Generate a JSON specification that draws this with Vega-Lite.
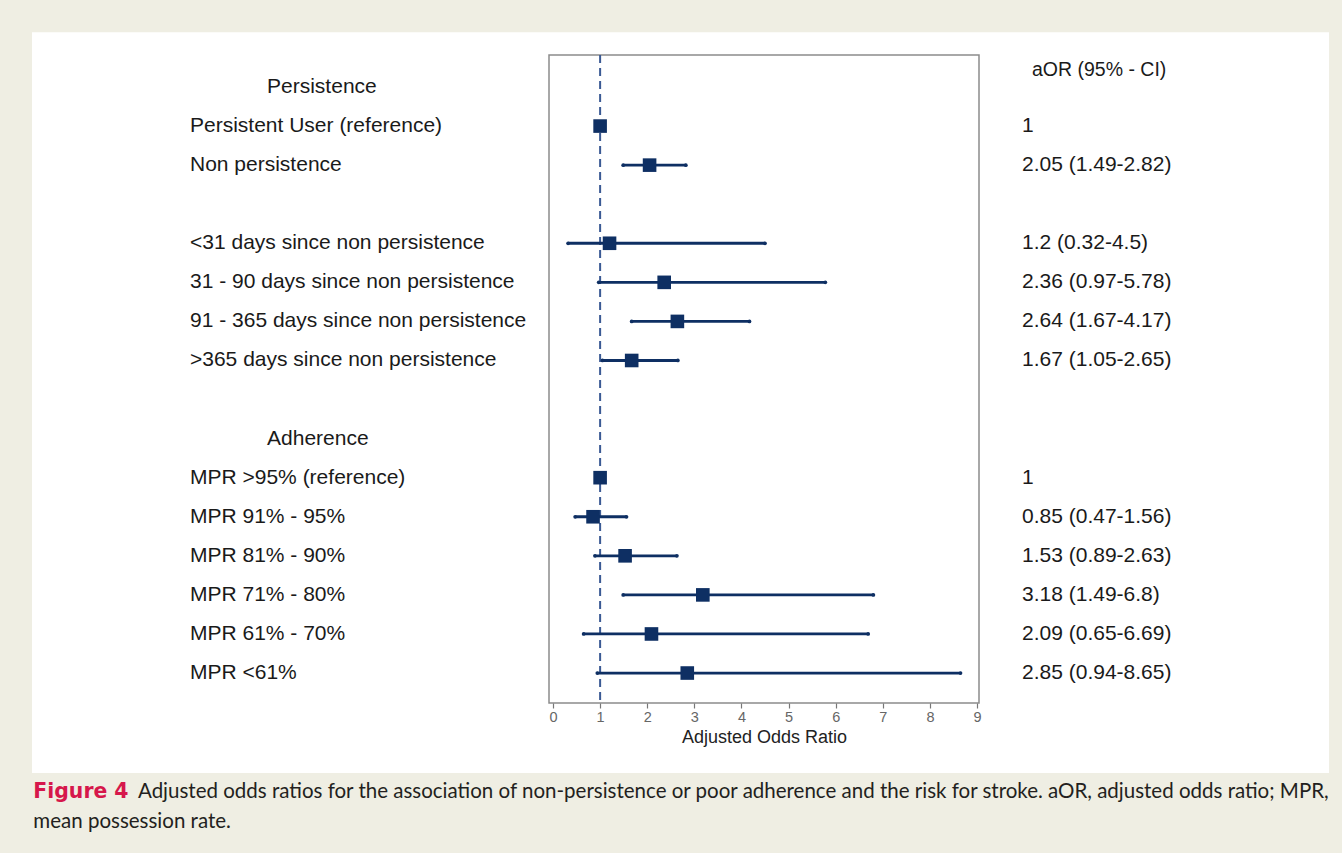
{
  "$schema": "https://vega.github.io/schema/vega-lite/v6.json",
  "width": 430,
  "height": 648,
  "autosize": {"type": "none"},
  "padding": {"left": 549, "top": 55, "right": 363, "bottom": 150},
  "background": "#efeee3",
  "config": {
    "view": {"stroke": null},
    "font": "Liberation Sans",
    "axisX": {"labelFontSize": 14.5, "labelColor": "#666666", "tickColor": "#777777"}
  },
  "datasets": {
    "rows": [
      {"row": 0, "label": "Persistence", "kind": "header"},
      {"row": 1, "label": "Persistent User (reference)", "kind": "item", "or": 1, "ci": "1"},
      {"row": 2, "label": "Non persistence", "kind": "item", "or": 2.05, "lo": 1.49, "hi": 2.82, "ci": "2.05 (1.49-2.82)"},
      {"row": 4, "label": "<31 days since non persistence", "kind": "item", "or": 1.2, "lo": 0.32, "hi": 4.5, "ci": "1.2 (0.32-4.5)"},
      {"row": 5, "label": "31 - 90 days since non persistence", "kind": "item", "or": 2.36, "lo": 0.97, "hi": 5.78, "ci": "2.36 (0.97-5.78)"},
      {"row": 6, "label": "91 - 365 days since non persistence", "kind": "item", "or": 2.64, "lo": 1.67, "hi": 4.17, "ci": "2.64 (1.67-4.17)"},
      {"row": 7, "label": ">365 days since non persistence", "kind": "item", "or": 1.67, "lo": 1.05, "hi": 2.65, "ci": "1.67 (1.05-2.65)"},
      {"row": 9, "label": "Adherence", "kind": "header"},
      {"row": 10, "label": "MPR >95% (reference)", "kind": "item", "or": 1, "ci": "1"},
      {"row": 11, "label": "MPR 91% - 95%", "kind": "item", "or": 0.85, "lo": 0.47, "hi": 1.56, "ci": "0.85 (0.47-1.56)"},
      {"row": 12, "label": "MPR 81% - 90%", "kind": "item", "or": 1.53, "lo": 0.89, "hi": 2.63, "ci": "1.53 (0.89-2.63)"},
      {"row": 13, "label": "MPR 71% - 80%", "kind": "item", "or": 3.18, "lo": 1.49, "hi": 6.8, "ci": "3.18 (1.49-6.8)"},
      {"row": 14, "label": "MPR 61% - 70%", "kind": "item", "or": 2.09, "lo": 0.65, "hi": 6.69, "ci": "2.09 (0.65-6.69)"},
      {"row": 15, "label": "MPR <61%", "kind": "item", "or": 2.85, "lo": 0.94, "hi": 8.65, "ci": "2.85 (0.94-8.65)"}
    ]
  },
  "data": {"name": "rows"},
  "layer": [
    {
      "data": {"values": [{}]},
      "mark": {"type": "rect", "fill": "white", "stroke": null, "clip": false},
      "encoding": {
        "x": {"datum": -11.059, "type": "quantitative",
          "scale": {"domain": [-0.085, 9.042], "nice": false, "zero": false},
          "axis": {"values": [0, 1, 2, 3, 4, 5, 6, 7, 8, 9], "domain": false, "grid": false, "zindex": 2,
            "tickColor": "#777777", "tickSize": 5, "tickWidth": 1.2, "labelColor": "#666666", "labelFontSize": 14.5,
            "labelPadding": 2, "labelFlush": false, "title": "Adjusted Odds Ratio", "titleFontSize": 18,
            "titleFontWeight": "normal", "titleColor": "#222222", "titlePadding": 5}},
        "x2": {"datum": 16.472},
        "y": {"datum": -1.4, "type": "quantitative",
          "scale": {"domain": [-0.819, 15.767], "nice": false, "zero": false, "reverse": true}, "axis": null},
        "y2": {"datum": 17.557}
      }
    },
    {
      "data": {"values": [{}]},
      "mark": {"type": "rect", "fill": "transparent", "stroke": "#8c8c8c", "strokeWidth": 1.5},
      "encoding": {
        "x": {"datum": -0.085, "type": "quantitative"},
        "x2": {"datum": 9.042},
        "y": {"datum": -0.819, "type": "quantitative", "axis": null},
        "y2": {"datum": 15.767}
      }
    },
    {
      "data": {"values": [{}]},
      "mark": {"type": "rule", "color": "#3a5a94", "strokeWidth": 2, "strokeDash": [8, 5]},
      "encoding": {
        "x": {"datum": 1, "type": "quantitative"},
        "y": {"datum": -0.819, "type": "quantitative", "axis": null},
        "y2": {"datum": 15.767}
      }
    },
    {
      "transform": [{"filter": "isValid(datum.lo)"}],
      "mark": {"type": "rule", "color": "#0e2f63", "strokeWidth": 2.8},
      "encoding": {
        "x": {"field": "lo", "type": "quantitative"},
        "x2": {"field": "hi"},
        "y": {"field": "row", "type": "quantitative", "axis": null}
      }
    },
    {
      "transform": [{"filter": "isValid(datum.lo)"}, {"fold": ["lo", "hi"], "as": ["end", "endv"]}],
      "mark": {"type": "point", "shape": "circle", "filled": true, "color": "#0e2f63", "size": 14, "opacity": 1},
      "encoding": {
        "x": {"field": "endv", "type": "quantitative"},
        "y": {"field": "row", "type": "quantitative", "axis": null}
      }
    },
    {
      "transform": [{"filter": "isValid(datum.or)"}],
      "mark": {"type": "point", "shape": "square", "filled": true, "color": "#0e2f63", "size": 185, "opacity": 1},
      "encoding": {
        "x": {"field": "or", "type": "quantitative"},
        "y": {"field": "row", "type": "quantitative", "axis": null}
      }
    },
    {
      "transform": [{"filter": "datum.kind == 'item'"}],
      "mark": {"type": "text", "align": "left", "baseline": "middle", "fontSize": 21, "color": "#1a1a1a"},
      "encoding": {
        "x": {"datum": -7.705, "type": "quantitative"},
        "y": {"field": "row", "type": "quantitative", "axis": null},
        "text": {"field": "label"}
      }
    },
    {
      "transform": [{"filter": "datum.kind == 'header'"}],
      "mark": {"type": "text", "align": "left", "baseline": "middle", "fontSize": 21, "color": "#1a1a1a"},
      "encoding": {
        "x": {"datum": -6.07, "type": "quantitative"},
        "y": {"field": "row", "type": "quantitative", "axis": null},
        "text": {"field": "label"}
      }
    },
    {
      "transform": [{"filter": "isValid(datum.ci)"}],
      "mark": {"type": "text", "align": "left", "baseline": "middle", "fontSize": 21, "color": "#1a1a1a"},
      "encoding": {
        "x": {"datum": 9.955, "type": "quantitative"},
        "y": {"field": "row", "type": "quantitative", "axis": null},
        "text": {"field": "ci"}
      }
    },
    {
      "data": {"values": [{"t": "aOR (95% - CI)"}]},
      "mark": {"type": "text", "align": "left", "baseline": "middle", "fontSize": 19.5, "color": "#1a1a1a"},
      "encoding": {
        "x": {"datum": 10.167, "type": "quantitative"},
        "y": {"datum": -0.43, "type": "quantitative", "axis": null},
        "text": {"field": "t"}
      }
    },
    {
      "data": {"values": [{"t": "Figure 4"}]},
      "mark": {"type": "text", "align": "left", "baseline": "alphabetic", "font": "DejaVu Sans", "fontWeight": "bold", "fontSize": 20.4, "color": "#d6174b"},
      "encoding": {
        "x": {"datum": -11.03, "type": "quantitative"},
        "y": {"datum": 18.197, "type": "quantitative", "axis": null},
        "text": {"field": "t"}
      }
    },
    {
      "data": {"values": [{"t": "Adjusted odds ratios for the association of non-persistence or poor adherence and the risk for stroke. aOR, adjusted odds ratio; MPR,"}]},
      "mark": {"type": "text", "align": "left", "baseline": "alphabetic", "font": "Lato", "fontSize": 20.5, "color": "#231f20"},
      "encoding": {
        "x": {"datum": -8.809, "type": "quantitative"},
        "y": {"datum": 18.197, "type": "quantitative", "axis": null},
        "text": {"field": "t"}
      }
    },
    {
      "data": {"values": [{"t": "mean possession rate."}]},
      "mark": {"type": "text", "align": "left", "baseline": "alphabetic", "font": "Lato", "fontSize": 20.5, "color": "#231f20"},
      "encoding": {
        "x": {"datum": -11.03, "type": "quantitative"},
        "y": {"datum": 18.965, "type": "quantitative", "axis": null},
        "text": {"field": "t"}
      }
    }
  ]
}
